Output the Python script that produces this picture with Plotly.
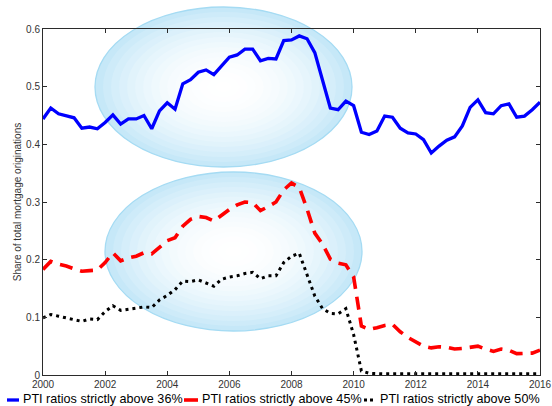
import plotly.graph_objects as go

# ---------------- data (quarterly, 2000Q1 .. 2016Q1) ----------------
quarter = [2000 + q / 4 for q in range(65)]

pti_above_36 = [0.444, 0.463, 0.453, 0.450, 0.446, 0.428, 0.430, 0.427, 0.438, 0.451,
                0.435, 0.444, 0.444, 0.450, 0.427, 0.458, 0.472, 0.461, 0.505, 0.512,
                0.525, 0.529, 0.521, 0.536, 0.551, 0.555, 0.565, 0.565, 0.545, 0.549,
                0.548, 0.580, 0.581, 0.588, 0.583, 0.559, 0.510, 0.463, 0.460, 0.475,
                0.467, 0.421, 0.417, 0.423, 0.449, 0.447, 0.428, 0.420, 0.418, 0.408,
                0.385, 0.397, 0.407, 0.413, 0.432, 0.464, 0.477, 0.455, 0.453, 0.467,
                0.470, 0.447, 0.449, 0.460, 0.473]

pti_above_45 = [0.183, 0.197, 0.192, 0.189, 0.184, 0.180, 0.181, 0.182, 0.195, 0.212,
                0.198, 0.203, 0.206, 0.212, 0.210, 0.222, 0.233, 0.238, 0.258, 0.270,
                0.275, 0.273, 0.267, 0.277, 0.287, 0.295, 0.300, 0.299, 0.285, 0.292,
                0.300, 0.321, 0.333, 0.325, 0.288, 0.246, 0.227, 0.201, 0.194, 0.191,
                0.170, 0.085, 0.079, 0.082, 0.086, 0.088, 0.075, 0.065, 0.057, 0.050,
                0.047, 0.049, 0.048, 0.045, 0.046, 0.048, 0.050, 0.045, 0.041, 0.045,
                0.043, 0.037, 0.037, 0.038, 0.043]

pti_above_50 = [0.099, 0.105, 0.102, 0.099, 0.097, 0.093, 0.097, 0.096, 0.110, 0.120,
                0.112, 0.114, 0.116, 0.118, 0.117, 0.130, 0.138, 0.148, 0.163, 0.162,
                0.165, 0.160, 0.154, 0.166, 0.170, 0.172, 0.176, 0.178, 0.167, 0.172,
                0.172, 0.195, 0.206, 0.211, 0.175, 0.137, 0.115, 0.107, 0.106, 0.115,
                0.070, 0.007, 0.003, 0.002, 0.002, 0.002, 0.002, 0.002, 0.002, 0.002,
                0.002, 0.002, 0.002, 0.002, 0.002, 0.002, 0.002, 0.002, 0.002, 0.002,
                0.002, 0.002, 0.002, 0.002, 0.002]

series_names = ["PTI ratios strictly above 36%",
                "PTI ratios strictly above 45%",
                "PTI ratios strictly above 50%"]

x_ticks = [2000, 2002, 2004, 2006, 2008, 2010, 2012, 2014, 2016]
y_ticks = [0, 0.1, 0.2, 0.3, 0.4, 0.5, 0.6]
y_title = "Share of total mortgage originations"

# ---------------- figure ----------------
W, H = 552, 406
ML, MR, MT, MB = 43, 12, 29, 31
PW, PH = W - ML - MR, H - MT - MB
FONT = "Liberation Sans, Arial, Helvetica, sans-serif"


def px_x(px):
    return (px - ML) / PW


def px_y(py):
    return (H - MB - py) / PH


fig = go.Figure()
fig.add_trace(go.Scatter(x=quarter, y=pti_above_36, mode="lines", name=series_names[0],
                         line=dict(color="#0000ff", width=3.3), showlegend=False))
fig.add_trace(go.Scatter(x=quarter, y=pti_above_45, mode="lines", name=series_names[1],
                         line=dict(color="#ff0000", width=3.6, dash="13px,8px"), showlegend=False))
fig.add_trace(go.Scatter(x=quarter, y=pti_above_50, mode="lines", name=series_names[2],
                         line=dict(color="#000000", width=3, dash="3px,4px"), showlegend=False))

shapes = []


def gradient_ellipse(x0, y0, x1, y1):
    cx, cy = (x0 + x1) / 2, (y0 + y1) / 2
    rx, ry = (x1 - x0) / 2, (y1 - y0) / 2
    edge = (198, 232, 248)
    n = 16
    out = []
    for i in range(n):
        r = 1 - i / n
        t = r ** 2.2
        c = tuple(round(255 * (1 - t) + e * t) for e in edge)
        out.append(dict(type="circle", xref="paper", yref="paper",
                        x0=px_x(cx - rx * r), x1=px_x(cx + rx * r),
                        y0=px_y(cy + ry * r), y1=px_y(cy - ry * r),
                        fillcolor="rgb(%d,%d,%d)" % c,
                        line=dict(width=1.3 if i == 0 else 0, color="rgb(165,219,243)"),
                        layer="below"))
    return out


shapes += gradient_ellipse(95, 7, 352, 167)
shapes += gradient_ellipse(105, 172, 362, 331)

# manual legend
leg_y = 399
legend_items = [(7, 19, 21, "#0000ff", "solid", 3.3),
                (184, 198, 200, "#ff0000", "solid", 3.6),
                (364, 376, 378, "#000000", "3px,3px", 3)]
annotations = []
for (sx0, sx1, tx, col, dash, w), name in zip(legend_items, series_names):
    shapes.append(dict(type="line", xref="paper", yref="paper",
                       x0=px_x(sx0), x1=px_x(sx1), y0=px_y(leg_y + 1), y1=px_y(leg_y + 1),
                       line=dict(color=col, width=w, dash=dash)))
    annotations.append(dict(xref="paper", yref="paper", x=px_x(tx), y=px_y(leg_y),
                            xanchor="left", yanchor="middle", showarrow=False,
                            text=name, font=dict(family=FONT, size=12.6, color="#000000")))

axis_common = dict(showline=True, mirror="ticks", linecolor="#2b2b2b", linewidth=1,
                   ticks="inside", ticklen=4, tickcolor="#2b2b2b", showgrid=False,
                   zeroline=False, automargin=False,
                   tickfont=dict(family=FONT, size=10, color="#333333"))

fig.update_layout(
    width=W, height=H,
    margin=dict(l=ML, r=MR, t=MT, b=MB, pad=0),
    paper_bgcolor="white", plot_bgcolor="rgba(0,0,0,0)",
    showlegend=False,
    xaxis=dict(range=[2000, 2016], tickvals=x_ticks, **axis_common),
    yaxis=dict(range=[0, 0.6], tickvals=y_ticks,
               title=dict(text=y_title, font=dict(family=FONT, size=10, color="#333333"),
                          standoff=2),
               **axis_common),
    shapes=shapes,
    annotations=annotations,
)

fig.write_html("out.html", config={"displayModeBar": False},
               post_script="document.body.style.margin='0';document.body.style.padding='0';"
                           "document.documentElement.style.overflow='hidden';")
